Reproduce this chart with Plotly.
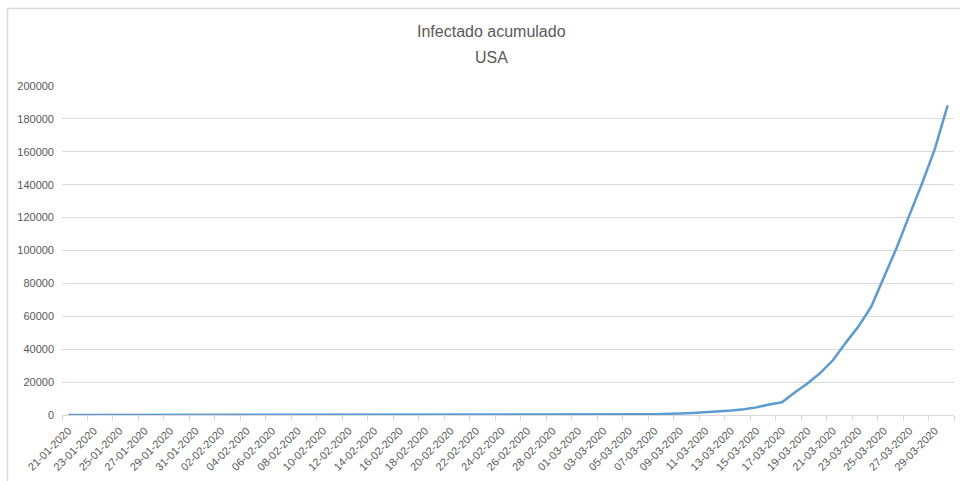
import plotly.graph_objects as go

# Daily categories (dd-mm-yyyy)
fechas = [
    "21-01-2020", "22-01-2020", "23-01-2020", "24-01-2020", "25-01-2020",
    "26-01-2020", "27-01-2020", "28-01-2020", "29-01-2020", "30-01-2020",
    "31-01-2020", "01-02-2020", "02-02-2020", "03-02-2020", "04-02-2020",
    "05-02-2020", "06-02-2020", "07-02-2020", "08-02-2020", "09-02-2020",
    "10-02-2020", "11-02-2020", "12-02-2020", "13-02-2020", "14-02-2020",
    "15-02-2020", "16-02-2020", "17-02-2020", "18-02-2020", "19-02-2020",
    "20-02-2020", "21-02-2020", "22-02-2020", "23-02-2020", "24-02-2020",
    "25-02-2020", "26-02-2020", "27-02-2020", "28-02-2020", "29-02-2020",
    "01-03-2020", "02-03-2020", "03-03-2020", "04-03-2020", "05-03-2020",
    "06-03-2020", "07-03-2020", "08-03-2020", "09-03-2020", "10-03-2020",
    "11-03-2020", "12-03-2020", "13-03-2020", "14-03-2020", "15-03-2020",
    "16-03-2020", "17-03-2020", "18-03-2020", "19-03-2020", "20-03-2020",
    "21-03-2020", "22-03-2020", "23-03-2020", "24-03-2020", "25-03-2020",
    "26-03-2020", "27-03-2020", "28-03-2020", "29-03-2020", "30-03-2020",
]

# Cumulative infected, USA
infectados = [
    1, 1, 2, 2, 5, 5, 5, 5, 5, 6,
    8, 8, 11, 11, 11, 11, 11, 11, 11, 11,
    12, 12, 13, 13, 13, 13, 13, 13, 13, 13,
    15, 15, 15, 51, 51, 57, 58, 60, 68, 74,
    98, 118, 149, 217, 262, 402, 518, 583, 959, 1281,
    1663, 2179, 2727, 3499, 4632, 6421, 7783, 13677, 19100, 25489,
    33276, 43847, 53740, 65778, 83836, 101657, 121478, 140886, 161807, 188172,
]

titulo = "Infectado acumulado"
subtitulo = "USA"

W, H = 960, 481
L, R, T, B = 62, 6, 86, 66
PW, PH = W - L - R, H - T - B


def paper_x(px):
    return (px - L) / PW


def paper_y(py):
    return (H - B - py) / PH


GRIS_TXT = "#595959"
GRIS_LIN = "#d9d9d9"
FUENTE = "Liberation Sans, Arial, sans-serif"

fig = go.Figure(
    go.Scatter(
        x=fechas,
        y=infectados,
        mode="lines",
        line=dict(color="#5b9bd5", width=2.5),
        hoverinfo="x+y",
    )
)

fig.update_layout(
    width=W,
    height=H,
    margin=dict(l=L, r=R, t=T, b=B, pad=0),
    paper_bgcolor="white",
    plot_bgcolor="white",
    showlegend=False,
    font=dict(family=FUENTE, color=GRIS_TXT, size=11),
    xaxis=dict(
        type="category",
        range=[-0.5, len(fechas) - 0.5],
        tickmode="linear",
        tick0=0,
        dtick=2,
        tickson="boundaries",
        ticks="outside",
        ticklen=5,
        tickcolor=GRIS_LIN,
        showline=True,
        linecolor=GRIS_LIN,
        linewidth=1,
        showgrid=False,
        tickangle=-45,
        ticklabelstandoff=4,
        tickfont=dict(size=11, color=GRIS_TXT),
    ),
    yaxis=dict(
        range=[0, 200000],
        tickmode="linear",
        tick0=0,
        dtick=20000,
        showgrid=True,
        gridcolor=GRIS_LIN,
        gridwidth=1,
        zeroline=False,
        showline=False,
        ticks="",
        ticklabelstandoff=7,
        tickformat="d",
        tickfont=dict(size=11, color=GRIS_TXT),
    ),
    annotations=[
        dict(text=titulo, xref="paper", yref="paper", x=paper_x(491), y=paper_y(32),
             xanchor="center", yanchor="middle", showarrow=False,
             font=dict(family=FUENTE, size=16, color=GRIS_TXT)),
        dict(text=subtitulo, xref="paper", yref="paper", x=paper_x(491), y=paper_y(57),
             xanchor="center", yanchor="middle", showarrow=False,
             font=dict(family=FUENTE, size=16, color=GRIS_TXT)),
    ],
    shapes=[
        dict(type="rect", xref="paper", yref="paper",
             x0=paper_x(7.5), x1=paper_x(990), y0=paper_y(520), y1=paper_y(8.5),
             line=dict(color=GRIS_LIN, width=1.5), fillcolor="rgba(0,0,0,0)", layer="below"),
    ],
)

fig.write_html("out.html")
